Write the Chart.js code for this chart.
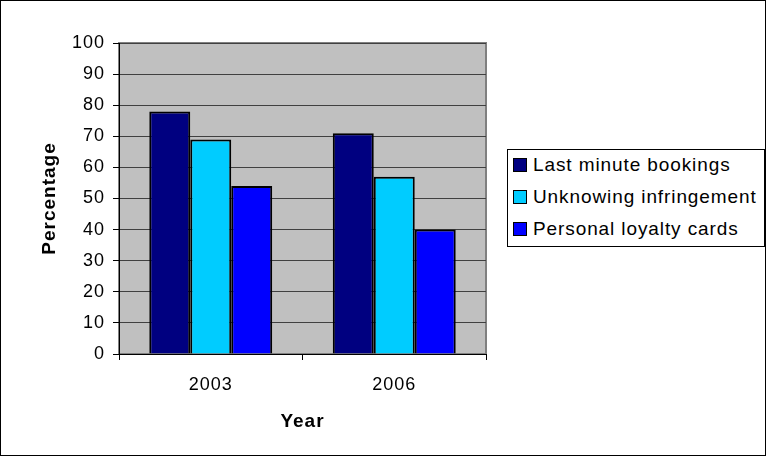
<!DOCTYPE html>
<html>
<head>
<meta charset="utf-8">
<script src="https://cdn.jsdelivr.net/npm/chart.js@4/dist/chart.umd.min.js"></script>
<style>
  html, body { margin: 0; padding: 0; background: #fff; }
  #wrap { position: relative; width: 766px; height: 456px; box-sizing: border-box; border: 1px solid #000; }
  canvas { position: absolute; left: 0; top: 0; }
  #legend { position: absolute; left: 506px; top: 148px; width: 258px; height: 98px; box-sizing: border-box;
            border: 1px solid #000; background: #fff; font-family: "Liberation Sans", Arial, sans-serif;
            font-size: 19px; letter-spacing: 0.9px; color: #000; }
  .item { position: absolute; left: 5px; height: 20px; line-height: 20px; white-space: nowrap; }
  .sw { display: inline-block; width: 12px; height: 12px; border: 1px solid #000; vertical-align: -1px; margin-right: 6px; }
</style>
</head>
<body>
<div id="wrap">
  <canvas id="c" width="764" height="454"></canvas>
  <div id="legend"></div>
</div>
<script>
const years = ['2003', '2006'];
const seriesNames = ['Last minute bookings', 'Unknowing infringement', 'Personal loyalty cards'];
const lastMinute = [78, 71];
const unknowing = [69, 57];
const loyalty = [54, 40];
const seriesColors = ['#000080', '#00CCFF', '#0000FF'];
const yTicks = [0, 10, 20, 30, 40, 50, 60, 70, 80, 90, 100];

const font = { family: '"Liberation Sans", Arial, sans-serif', size: 18 };
const titleFont = { family: '"Liberation Sans", Arial, sans-serif', size: 19, weight: 'bold' };

// slightly wider text spacing on the canvas
const spacing = {
  id: 'spacing',
  beforeUpdate(chart) { chart.ctx.letterSpacing = '1px'; },
  beforeDraw(chart) { chart.ctx.letterSpacing = '1px'; }
};

// grey plot background with a grey frame
const plotArea = {
  id: 'plotArea',
  beforeDraw(chart) {
    const { ctx, chartArea: a } = chart;
    ctx.save();
    ctx.fillStyle = '#C0C0C0';
    ctx.fillRect(a.left, a.top, a.right - a.left, a.bottom - a.top);
    ctx.strokeStyle = '#808080';
    ctx.lineWidth = 2;
    ctx.strokeRect(a.left, a.top, a.right - a.left, a.bottom - a.top);
    ctx.restore();
  }
};

const values = [lastMinute, unknowing, loyalty];
new Chart(document.getElementById('c'), {
  type: 'bar',
  data: {
    labels: years,
    datasets: seriesNames.map((n, i) => ({
      label: n,
      data: values[i],
      backgroundColor: seriesColors[i],
      borderColor: '#000',
      borderWidth: 2,
      barPercentage: 1,
      categoryPercentage: 0.67
    }))
  },
  options: {
    responsive: false,
    animation: false,
    layout: { padding: { left: 37, top: 42, right: 279, bottom: 22 } },
    plugins: { legend: { display: false }, tooltip: { enabled: false } },
    scales: {
      x: {
        offset: true,
        grid: { offset: true, drawOnChartArea: false, color: '#000', tickLength: 6 },
        border: { color: '#000', width: 1 },
        ticks: { color: '#000', font, padding: 14 },
        title: { display: true, text: 'Year', color: '#000', font: titleFont, padding: { top: 0, bottom: 0 } },
        afterFit(s) { s.height = 79; }
      },
      y: {
        min: 0, max: 100,
        afterBuildTicks(s) { s.ticks = yTicks.map(v => ({ value: v })); },
        grid: { color: '#404040', tickLength: 6, tickColor: '#000' },
        border: { color: '#000', width: 1 },
        ticks: { color: '#000', font, padding: 8 },
        title: { display: true, text: 'Percentage', color: '#000', font: titleFont, padding: { top: 0, bottom: 0 } },
        afterFit(s) { s.width = 81; }
      }
    }
  },
  plugins: [spacing, plotArea]
});

// legend entries built from the series
const leg = document.getElementById('legend');
seriesNames.forEach((n, i) => {
  const d = document.createElement('div');
  d.className = 'item';
  d.style.top = (5 + i * 32) + 'px';
  d.innerHTML = '<span class="sw" style="background:' + seriesColors[i] + '"></span>';
  d.appendChild(document.createTextNode(n));
  leg.appendChild(d);
});
</script>
</body>
</html>
